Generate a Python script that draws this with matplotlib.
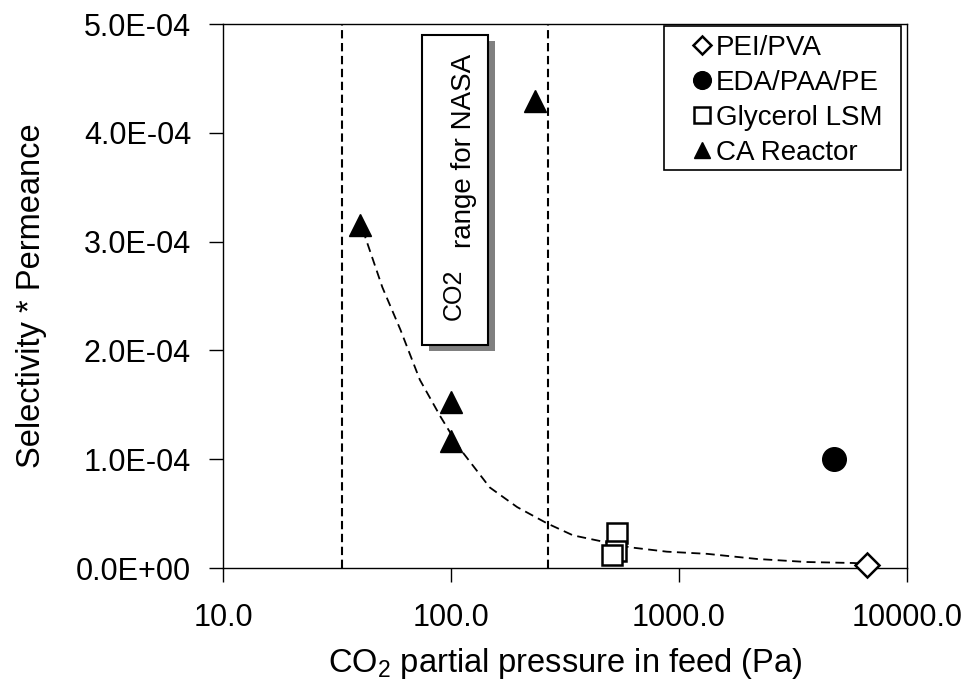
import matplotlib
matplotlib.use("Agg")
import matplotlib.pyplot as plt
from matplotlib.patches import Rectangle
from matplotlib.ticker import FuncFormatter, FixedLocator, NullLocator

plt.rcParams["font.family"] = ["Liberation Sans", "DejaVu Sans"]

# ============================================================
# DATA
# ============================================================

pei_x = [6700.0]
pei_y = [3.0e-6]

eda_x = [4800.0]
eda_y = [1.0e-4]

gly_x = [535.0, 530.0, 510.0]
gly_y = [3.2e-5, 1.6e-5, 1.2e-5]

ca_x = [40.0, 100.0, 100.0, 233.0]
ca_y = [3.15e-4, 1.53e-4, 1.17e-4, 4.29e-4]

# hand-drawn trend curve through the points
trend_x = [41, 50, 60, 73, 90, 110, 148, 195, 264, 343, 610, 885, 1330, 2200, 3640, 5800, 6600]
trend_y = [3.11e-4, 2.58e-4, 2.19e-4, 1.73e-4, 1.39e-4, 1.09e-4, 7.4e-5, 5.6e-5,
           4.1e-5, 3.0e-5, 1.9e-5, 1.5e-5, 1.3e-5, 8.3e-6, 5.5e-6, 4.6e-6, 4.0e-6]

nasa_range = [33.3, 266.6]

x_ticks = [10, 100, 1000, 10000]
y_ticks = [0, 1e-4, 2e-4, 3e-4, 4e-4, 5e-4]

# ============================================================
# PLOT
# ============================================================

fig = plt.figure(figsize=(9.76, 6.92), dpi=100)
ax = fig.add_axes([223 / 976, 1 - 568 / 692, 684 / 976, 544 / 692])

ax.set_xscale("log")
ax.set_xlim(10, 10000)
ax.set_ylim(0, 5e-4)

for xv in nasa_range:
    ax.axvline(xv, color="black", lw=1.5, ls=(0, (4, 2.2)), zorder=1)

ax.plot(trend_x, trend_y, color="black", lw=1.3, ls=(0, (5, 3)), zorder=2)

ax.plot(pei_x, pei_y, ls="none", marker="D", ms=12, mfc="white", mec="black",
        mew=1.8, label="PEI/PVA", clip_on=False, zorder=4)
ax.plot(eda_x, eda_y, ls="none", marker="o", ms=17, mfc="black", mec="black",
        label="EDA/PAA/PE", zorder=4)
ax.plot(gly_x, gly_y, ls="none", marker="s", ms=15, mfc="white", mec="black",
        mew=1.8, label="Glycerol LSM", zorder=4)
ax.plot(ca_x, ca_y, ls="none", marker="^", ms=16, mfc="black", mec="black",
        label="CA Reactor", zorder=4)

# axes styling
ax.xaxis.set_major_locator(FixedLocator(x_ticks))
ax.xaxis.set_minor_locator(NullLocator())
ax.xaxis.set_major_formatter(FuncFormatter(lambda v, p: f"{v:.1f}"))
ax.yaxis.set_major_locator(FixedLocator(y_ticks))
ax.yaxis.set_major_formatter(FuncFormatter(lambda v, p: f"{v:.1E}"))

ax.tick_params(axis="both", direction="out", length=10, width=1, labelsize=22)
ax.tick_params(axis="x", pad=15)
ax.tick_params(axis="y", pad=13)
for sp in ax.spines.values():
    sp.set_linewidth(1.0)

ax.set_xlabel(r"CO$\mathregular{_2}$ partial pressure in feed (Pa)", fontsize=23.5)
ax.set_ylabel("Selectivity * Permeance", fontsize=23.5)
ax.xaxis.set_label_coords(0.5, -0.143)
ax.yaxis.set_label_coords(-0.257, 0.5)

# NASA range text box with shadow
ax.add_patch(Rectangle((0.301, 0.398), 0.096, 0.57, transform=ax.transAxes,
                       facecolor="#808080", edgecolor="none", zorder=5))
ax.add_patch(Rectangle((0.291, 0.41), 0.096, 0.57, transform=ax.transAxes,
                       facecolor="white", edgecolor="black", lw=1.5, zorder=6))
ax.text(0.348, 0.503, "CO2", transform=ax.transAxes, rotation=90,
        rotation_mode="anchor", ha="center", va="baseline", fontsize=18, zorder=7)
ax.text(0.363, 0.588, "range for NASA", transform=ax.transAxes, rotation=90,
        rotation_mode="anchor", ha="left", va="baseline", fontsize=20, zorder=7)

# legend: frame drawn separately so the markers sit well inside it
ax.add_patch(Rectangle((0.645, 0.732), 0.346, 0.264, transform=ax.transAxes,
                       facecolor="white", edgecolor="black", lw=1.2, zorder=8))
leg = ax.legend(loc="upper left", bbox_to_anchor=(0.684, 0.98), borderaxespad=0,
                fontsize=20, frameon=False, markerscale=0.75,
                handlelength=0.8, handletextpad=0.1, borderpad=0,
                labelspacing=0.32, numpoints=1)
leg.set_zorder(9)

fig.savefig("out.png", dpi=100)
